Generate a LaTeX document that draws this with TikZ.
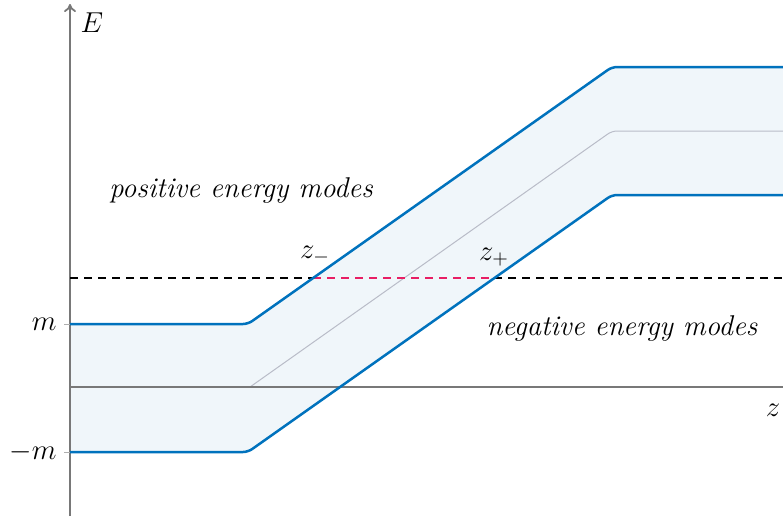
\documentclass[tikz,border=0pt]{standalone}
\usetikzlibrary{arrows.meta}
\definecolor{bandblue}{RGB}{0,114,189}
\definecolor{bandfill}{RGB}{240,246,250}
\definecolor{axisgray}{RGB}{120,120,120}
\definecolor{midgray}{RGB}{185,188,200}
\definecolor{dashred}{RGB}{232,30,100}
\tikzset{
  band/.style={draw=bandblue, line width=1.25pt, rounded corners=2.5pt},
  midline/.style={draw=midgray, line width=0.5pt, rounded corners=2.5pt},
  axisline/.style={draw=axisgray, line width=0.9pt},
  ticks/.style={draw=axisgray!60, line width=0.5pt},
  lvl/.style={line width=0.8pt, dash pattern=on 4pt off 3pt},
  lbl/.style={font=\fontsize{14.3}{17}\selectfont, inner sep=0pt}
}
\begin{document}
\begin{tikzpicture}[x=0.5pt, y=-0.5pt]
\useasboundingbox (0,0) rectangle (783,516);
% band fill
\fill[bandfill, rounded corners=2.5pt] (70,324) -- (248,324) -- (612,67) -- (790,67) -- (790,195) -- (612,195) -- (248,452) -- (70,452) -- cycle;
% middle line
\draw[midline] (250,387) -- (612,131) -- (783,131);
% axes
\draw[axisline] (70,387) -- (783,387);
\draw[axisline, -{To[length=4pt,width=6pt]}] (70,516) -- (70,4);
% ticks
\draw[ticks] (64,324) -- (70,324);
\draw[ticks] (64,452) -- (70,452);
% level
\coordinate (zm) at (313,278);
\coordinate (zp) at (494,278);
\coordinate (lvlL) at (70,278);
\coordinate (lvlR) at (783,278);
\draw[lvl, black] (lvlL) -- (zm);
\draw[lvl, dashred] (zm) -- (zp);
\draw[lvl, black] (zp) -- (lvlR);
% band edges
\draw[band] (70,324) -- (248,324) -- (612,67) -- (790,67);
\draw[band] (70,452) -- (248,452) -- (612,195) -- (790,195);
% labels
\node[lbl] (E) at (92,23) {$E$};
\node[lbl] (z) at (773,410) {$z$};
\node[lbl, anchor=east] (m) at (57,324) {$m$};
\node[lbl, anchor=east] (mm) at (57,452) {$-m$};
\node[lbl] (zmL) at (315,255) {$z_-$};
\node[lbl] (zpL) at (494,257) {$z_+$};
\node[lbl] (pos) at (241,190) {\itshape positive energy modes};
\node[lbl] (neg) at (622,328) {\itshape negative energy modes};
\end{tikzpicture}
\end{document}
